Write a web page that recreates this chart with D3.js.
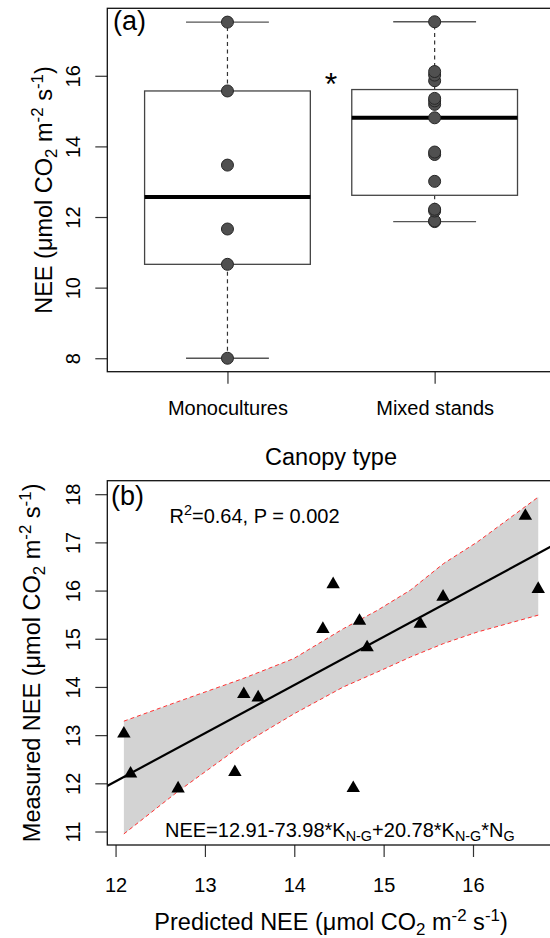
<!DOCTYPE html>
<html>
<head>
<meta charset="utf-8">
<script src="https://d3js.org/d3.v7.min.js"></script>
<style>
  body { margin: 0; background: #fff; }
  svg { display: block; font-family: "Liberation Sans", Arial, sans-serif; }
</style>
</head>
<body>
<svg id="chart"></svg>
<script>
// ---- data ----
const categories = ["Monocultures", "Mixed stands"];
const monoNEE = [17.52, 15.57, 13.47, 11.66, 10.66, 8.0];
const mixedNEE = [11.87, 11.89, 12.17, 12.22, 13.01, 13.77, 13.84, 14.81, 15.19, 15.29, 15.36, 15.86, 16.02, 16.12, 17.53];
const aTicks = [8, 10, 12, 14, 16];

// panel b: predicted vs measured
const predictedNEE = [12.093, 12.168, 12.70, 13.335, 13.435, 13.596, 14.32, 14.435, 14.66, 14.73, 14.815, 15.41, 15.665, 16.586, 16.73];
const measuredNEE  = [13.03, 12.20, 11.89, 12.23, 13.85, 13.78, 15.20, 16.13, 11.90, 15.37, 14.82, 15.31, 15.87, 17.55, 16.03];
const fitX = [11.90, 16.95];
const fitY = [11.94, 16.99];
const bandX     = [12.093, 12.69, 13.435, 13.995, 14.55, 14.93, 15.30, 15.67, 16.05, 16.73];
const bandUpper = [13.29, 13.69, 14.18, 14.59, 15.21, 15.59, 16.01, 16.56, 17.01, 17.94];
const bandLower = [10.95, 11.82, 12.82, 13.44, 14.00, 14.31, 14.62, 14.90, 15.14, 15.49];
const bXTicks = [12, 13, 14, 15, 16];
const bYTicks = [11, 12, 13, 14, 15, 16, 17, 18];

// ---- layout ----
const width = 550, height = 938;
const boxA = {left: 107.3, right: 554.8, top: 8.3, bottom: 371.7};
const boxB = {left: 107.3, right: 554.8, top: 480.7, bottom: 845};
const tickLen = 12;
const tickFont = 20, titleFont = 23.5;

const svg = d3.select('#chart').attr('width', width).attr('height', height);

// text with sub/superscripts, parts like [text, "sub"|"sup"|undefined]
function richText(sel, parts, size) {
    let shift = 0;
    parts.forEach(function(p) {
        let target = 0;
        if (p[1] === 'sub') target = 0.22 * size;
        if (p[1] === 'sup') target = -0.4 * size;
        sel.append('tspan')
            .attr('dy', target - shift)
            .attr('font-size', p[1] ? size * 0.72 : size)
            .text(p[0]);
        shift = target;
    });
    return sel;
}

const unitParts = [[' (μmol CO'], ['2', 'sub'], [' m'], ['-2', 'sup'], [' s'], ['-1', 'sup'], [')']];

// R style five number summary
function fivenum(values) {
    const v = values.slice().sort(d3.ascending);
    const n = v.length;
    const n4 = Math.floor((n + 3) / 2) / 2;
    const d = [1, n4, (n + 1) / 2, n + 1 - n4, n];
    return d.map(i => 0.5 * (v[Math.floor(i) - 1] + v[Math.ceil(i) - 1]));
}

// ================= panel (a) =================
const allA = monoNEE.concat(mixedNEE);
const loA = d3.min(allA), hiA = d3.max(allA);
const padA = 0.04 * (hiA - loA);

const xA = d3.scaleLinear().domain([0.42, 2.58]).range([boxA.left, boxA.right]);
const yA = d3.scaleLinear().domain([loA - padA, hiA + padA]).range([boxA.bottom, boxA.top]);

const gA = svg.append('g');

// y axis
const yAxisA = gA.append('g')
    .attr('transform', `translate(${boxA.left},0)`)
    .call(d3.axisLeft(yA).tickValues(aTicks).tickSize(tickLen).tickFormat(d3.format('d')));
yAxisA.select('.domain').remove();
yAxisA.selectAll('line').attr('stroke', '#333').attr('stroke-width', 1.2);
yAxisA.selectAll('text')
    .attr('transform', 'rotate(-90)')
    .attr('x', 0).attr('y', -27.3).attr('dy', 0)
    .attr('text-anchor', 'middle')
    .attr('font-size', tickFont).attr('fill', '#000')
    .attr('font-family', '"Liberation Sans", Arial, sans-serif');

// x axis
const xAxisA = gA.append('g')
    .attr('transform', `translate(0,${boxA.bottom})`)
    .call(d3.axisBottom(xA).tickValues([1, 2]).tickSize(tickLen).tickFormat((d, i) => categories[i]));
xAxisA.select('.domain').remove();
xAxisA.selectAll('line').attr('stroke', '#333').attr('stroke-width', 1.2);
xAxisA.selectAll('text')
    .attr('y', 43.3).attr('dy', 0)
    .attr('font-size', tickFont).attr('fill', '#000')
    .attr('font-family', '"Liberation Sans", Arial, sans-serif');

// boxes
const groups = [monoNEE, mixedNEE];
groups.forEach(function(vals, i) {
    const s = fivenum(vals);
    const cx = i + 1;
    const bw = 0.4;
    // whiskers
    gA.append('line')
        .attr('x1', xA(cx)).attr('x2', xA(cx))
        .attr('y1', yA(s[3])).attr('y2', yA(s[4]))
        .attr('stroke', '#333').attr('stroke-width', 1.2).attr('stroke-dasharray', '4,3.5');
    gA.append('line')
        .attr('x1', xA(cx)).attr('x2', xA(cx))
        .attr('y1', yA(s[1])).attr('y2', yA(s[0]))
        .attr('stroke', '#333').attr('stroke-width', 1.2).attr('stroke-dasharray', '4,3.5');
    // staples
    [s[0], s[4]].forEach(function(v) {
        gA.append('line')
            .attr('x1', xA(cx - bw / 2)).attr('x2', xA(cx + bw / 2))
            .attr('y1', yA(v)).attr('y2', yA(v))
            .attr('stroke', '#555').attr('stroke-width', 1.3);
    });
    // box
    gA.append('rect')
        .attr('x', xA(cx - bw)).attr('width', xA(cx + bw) - xA(cx - bw))
        .attr('y', yA(s[3])).attr('height', yA(s[1]) - yA(s[3]))
        .attr('fill', 'white').attr('stroke', '#444').attr('stroke-width', 1.3);
    // median
    gA.append('line')
        .attr('x1', xA(cx - bw)).attr('x2', xA(cx + bw))
        .attr('y1', yA(s[2])).attr('y2', yA(s[2]))
        .attr('stroke', '#000').attr('stroke-width', 4);
    // points
    gA.selectAll(null)
        .data(vals)
        .enter()
        .append('circle')
        .attr('cx', xA(cx))
        .attr('cy', d => yA(d))
        .attr('r', 6)
        .attr('fill', '#505050')
        .attr('stroke', '#262626')
        .attr('stroke-width', 1);
});

// frame
gA.append('rect')
    .attr('x', boxA.left).attr('y', boxA.top)
    .attr('width', boxA.right - boxA.left).attr('height', boxA.bottom - boxA.top)
    .attr('fill', 'none').attr('stroke', '#111').attr('stroke-width', 1.3);

gA.append('text').attr('x', 113).attr('y', 30).attr('font-size', 27).text('(a)');
gA.append('text').attr('x', xA(1.5)).attr('y', 95).attr('text-anchor', 'middle')
    .attr('font-size', 32).text('*');

// titles
richText(gA.append('text')
    .attr('transform', `translate(52,${(boxA.top + boxA.bottom) / 2}) rotate(-90)`)
    .attr('text-anchor', 'middle'), [['NEE']].concat(unitParts), titleFont);
gA.append('text')
    .attr('x', xA(1.5)).attr('y', 465)
    .attr('text-anchor', 'middle').attr('font-size', titleFont)
    .text('Canopy type');

// ================= panel (b) =================
const loX = d3.min(predictedNEE), hiX = d3.max(predictedNEE);
const padX = 0.04 * (hiX - loX);
const xB = d3.scaleLinear().domain([loX - padX, hiX + padX]).range([boxB.left, boxB.right]);
const yB = d3.scaleLinear().domain([11 - 0.28, 18 + 0.28]).range([boxB.bottom, boxB.top]);

const gB = svg.append('g');

gB.append('clipPath').attr('id', 'clipB')
    .append('rect')
    .attr('x', boxB.left).attr('y', boxB.top)
    .attr('width', boxB.right - boxB.left).attr('height', boxB.bottom - boxB.top);

const yAxisB = gB.append('g')
    .attr('transform', `translate(${boxB.left},0)`)
    .call(d3.axisLeft(yB).tickValues(bYTicks).tickSize(tickLen).tickFormat(d3.format('d')));
yAxisB.select('.domain').remove();
yAxisB.selectAll('line').attr('stroke', '#333').attr('stroke-width', 1.2);
yAxisB.selectAll('text')
    .attr('transform', 'rotate(-90)')
    .attr('x', 0).attr('y', -27.3).attr('dy', 0)
    .attr('text-anchor', 'middle')
    .attr('font-size', tickFont).attr('fill', '#000')
    .attr('font-family', '"Liberation Sans", Arial, sans-serif');

const xAxisB = gB.append('g')
    .attr('transform', `translate(0,${boxB.bottom})`)
    .call(d3.axisBottom(xB).tickValues(bXTicks).tickSize(tickLen).tickFormat(d3.format('d')));
xAxisB.select('.domain').remove();
xAxisB.selectAll('line').attr('stroke', '#333').attr('stroke-width', 1.2);
xAxisB.selectAll('text')
    .attr('y', 47).attr('dy', 0)
    .attr('font-size', tickFont).attr('fill', '#000')
    .attr('font-family', '"Liberation Sans", Arial, sans-serif');

const plotB = gB.append('g').attr('clip-path', 'url(#clipB)');

// confidence band
const band = bandX.map((x, i) => ({x: x, lo: bandLower[i], hi: bandUpper[i]}));
plotB.append('path')
    .datum(band)
    .attr('d', d3.area().x(d => xB(d.x)).y0(d => yB(d.lo)).y1(d => yB(d.hi)))
    .attr('fill', '#d3d3d3');
['hi', 'lo'].forEach(function(k) {
    plotB.append('path')
        .datum(band)
        .attr('d', d3.line().x(d => xB(d.x)).y(d => yB(d[k])))
        .attr('fill', 'none').attr('stroke', '#ff3030')
        .attr('stroke-width', 1).attr('stroke-dasharray', '4,3');
});

// fitted line
plotB.append('line')
    .attr('x1', xB(fitX[0])).attr('y1', yB(fitY[0]))
    .attr('x2', xB(fitX[1])).attr('y2', yB(fitY[1]))
    .attr('stroke', '#000').attr('stroke-width', 2.2);

// triangles
plotB.selectAll('path.pt')
    .data(predictedNEE)
    .enter()
    .append('path')
    .attr('class', 'pt')
    .attr('transform', (d, i) => `translate(${xB(d)},${yB(measuredNEE[i])})`)
    .attr('d', d3.symbol().type(d3.symbolTriangle).size(78))
    .attr('fill', '#000');

gB.append('rect')
    .attr('x', boxB.left).attr('y', boxB.top)
    .attr('width', boxB.right - boxB.left).attr('height', boxB.bottom - boxB.top)
    .attr('fill', 'none').attr('stroke', '#111').attr('stroke-width', 1.3);

gB.append('text').attr('x', 111).attr('y', 505).attr('font-size', 27).text('(b)');

richText(gB.append('text').attr('x', 169.5).attr('y', 522.5),
    [['R'], ['2', 'sup'], ['=0.64, P = 0.002']], 20);

richText(gB.append('text').attr('x', 165).attr('y', 836.7),
    [['NEE=12.91-73.98*K'], ['N-G', 'sub'], ['+20.78*K'], ['N-G', 'sub'], ['*N'], ['G', 'sub']], 20);

richText(gB.append('text')
    .attr('transform', `translate(40,${(boxB.top + boxB.bottom) / 2}) rotate(-90)`)
    .attr('text-anchor', 'middle'), [['Measured NEE']].concat(unitParts), titleFont);

richText(gB.append('text')
    .attr('x', xB((loX - padX + hiX + padX) / 2)).attr('y', 930)
    .attr('text-anchor', 'middle'), [['Predicted NEE']].concat(unitParts), titleFont);
</script>
</body>
</html>
